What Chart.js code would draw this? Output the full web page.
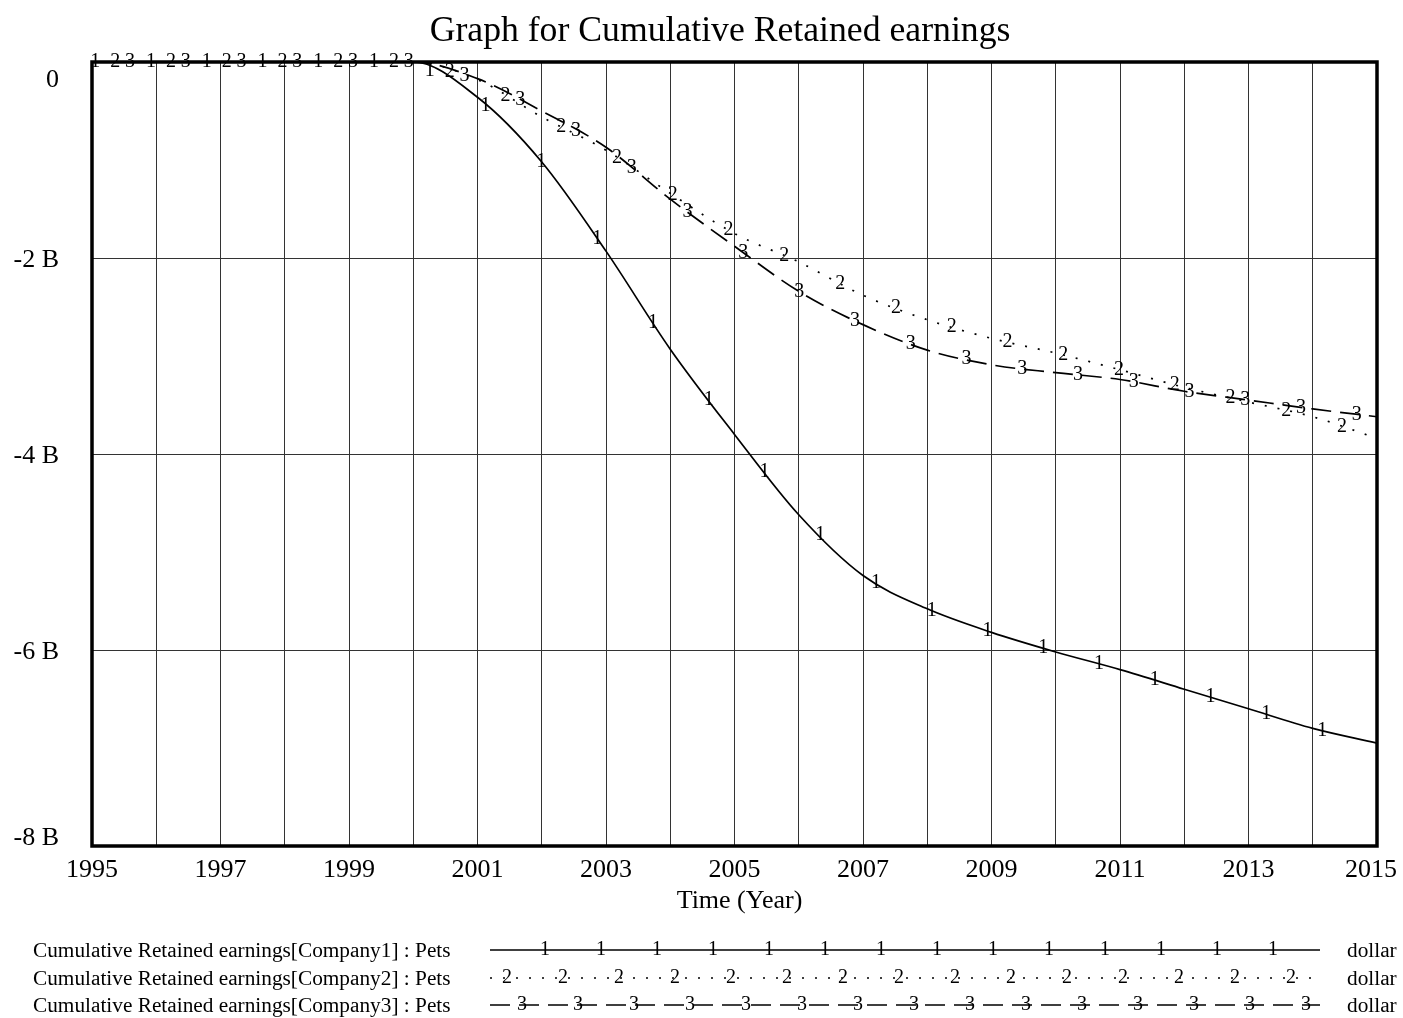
<!DOCTYPE html>
<html>
<head>
<meta charset="utf-8">
<title>Graph for Cumulative Retained earnings</title>
<script src="https://cdn.jsdelivr.net/npm/chart.js@4.4.0/dist/chart.umd.min.js"></script>
<style>
  html, body { margin: 0; padding: 0; background: #ffffff; }
  canvas { display: block; }
</style>
</head>
<body>
<canvas id="retainedChart" width="1403" height="1018"></canvas>
<script>
// values in billions of dollars
var years = [1995, 1996, 1997, 1998, 1999, 2000, 2001, 2002, 2003, 2004, 2005,
             2006, 2007, 2008, 2009, 2010, 2011, 2012, 2013, 2014, 2015];
var company1 = [0, 0, 0, 0, 0, 0, -0.36, -1.02, -1.93, -2.93, -3.8,
                -4.62, -5.24, -5.58, -5.82, -6.02, -6.2, -6.4, -6.6, -6.8, -6.95];
var company2 = [0, 0, 0, 0, 0, 0, -0.18, -0.56, -0.9, -1.34, -1.75,
                -2.04, -2.38, -2.63, -2.82, -2.97, -3.14, -3.32, -3.47, -3.62, -3.84];
var company3 = [0, 0, 0, 0, 0, 0, -0.17, -0.5, -0.87, -1.4, -1.88,
                -2.34, -2.68, -2.94, -3.09, -3.17, -3.24, -3.36, -3.45, -3.54, -3.62];

var xTickYears = [1995, 1997, 1999, 2001, 2003, 2005, 2007, 2009, 2011, 2013, 2015];
var yTickValues = [0, -2, -4, -6, -8];
var yTickLabels = ["0", "-2 B", "-4 B", "-6 B", "-8 B"];

var seriesNames = [
  "Cumulative Retained earnings[Company1] : Pets",
  "Cumulative Retained earnings[Company2] : Pets",
  "Cumulative Retained earnings[Company3] : Pets"
];
var seriesUnit = "dollar";

var FONT = '"Liberation Serif", "Times New Roman", serif';
var dashes = [[], [2, 11], [20, 9]];
// where the number tags sit along each line (years after 1995), and their spacing
var tagStart = [0.05, 0.36, 0.59];
var tagStep = 0.868;

function toPoints(vals) {
  return years.map(function (y, i) { return { x: y, y: vals[i] }; });
}

function valueAt(pts, x) {
  for (var i = 0; i < pts.length - 1; i++) {
    if (x >= pts[i].x && x <= pts[i + 1].x) {
      var t = (x - pts[i].x) / (pts[i + 1].x - pts[i].x);
      return pts[i].y + t * (pts[i + 1].y - pts[i].y);
    }
  }
  return pts[pts.length - 1].y;
}

var vensimDecor = {
  id: "vensimDecor",
  afterDatasetsDraw: function (chart) {
    var ctx = chart.ctx;
    var xs = chart.scales.x, ys = chart.scales.y;
    var area = chart.chartArea;

    ctx.save();
    ctx.fillStyle = "#000";

    // number tags on the lines
    ctx.font = "20px " + FONT;
    ctx.textAlign = "center";
    ctx.textBaseline = "middle";
    chart.data.datasets.forEach(function (ds, i) {
      for (var t = xs.min + tagStart[i]; t <= xs.max; t += tagStep) {
        var v = valueAt(ds.data, t);
        ctx.fillText(String(i + 1), xs.getPixelForValue(t), ys.getPixelForValue(v));
      }
    });

    // plot frame
    ctx.strokeStyle = "#000";
    ctx.lineWidth = 3.5;
    ctx.strokeRect(area.left, area.top, area.right - area.left, area.bottom - area.top);

    // title
    ctx.textAlign = "center";
    ctx.textBaseline = "alphabetic";
    ctx.font = "35.7px " + FONT;
    ctx.fillText("Graph for Cumulative Retained earnings", 720, 41);

    // axis labels
    ctx.font = "26px " + FONT;
    xTickYears.forEach(function (yr) {
      var px = xs.getPixelForValue(yr);
      var w = ctx.measureText(String(yr)).width;
      px = Math.min(px, 1397 - w / 2);
      ctx.fillText(String(yr), px, 877);
    });
    ctx.fillText("Time (Year)", (area.left + area.right) / 2 + 5, 908);

    ctx.textAlign = "right";
    yTickValues.forEach(function (v, i) {
      var py = ys.getPixelForValue(v);
      py = Math.max(area.top + 16, Math.min(area.bottom - 10, py));
      ctx.fillText(yTickLabels[i], 59, py + 9);
    });

    // legend rows
    var rowY = [950, 978, 1005];
    var tagX0 = [545, 507, 522];
    seriesNames.forEach(function (name, i) {
      ctx.font = "21.3px " + FONT;
      ctx.textAlign = "left";
      ctx.textBaseline = "alphabetic";
      ctx.fillText(name, 33, rowY[i] + 7);
      ctx.fillText(seriesUnit, 1347, rowY[i] + 7);

      ctx.beginPath();
      ctx.lineWidth = 1.6;
      ctx.setLineDash(dashes[i]);
      ctx.moveTo(490, rowY[i]);
      ctx.lineTo(1320, rowY[i]);
      ctx.stroke();
      ctx.setLineDash([]);

      ctx.textAlign = "center";
      ctx.textBaseline = "middle";
      ctx.font = "20px " + FONT;
      for (var x = tagX0[i]; x < 1315; x += 56) {
        ctx.fillText(String(i + 1), x, rowY[i]);
      }
    });

    ctx.restore();
  }
};

var ctx = document.getElementById("retainedChart").getContext("2d");

var retainedChart = new Chart(ctx, {
  type: "line",
  data: {
    datasets: [
      {
        label: seriesNames[0],
        data: toPoints(company1),
        borderColor: "#000",
        borderWidth: 1.7,
        borderDash: dashes[0]
      },
      {
        label: seriesNames[1],
        data: toPoints(company2),
        borderColor: "#000",
        borderWidth: 1.7,
        borderDash: dashes[1]
      },
      {
        label: seriesNames[2],
        data: toPoints(company3),
        borderColor: "#000",
        borderWidth: 1.7,
        borderDash: dashes[2]
      }
    ]
  },
  options: {
    responsive: false,
    animation: false,
    devicePixelRatio: 1,
    layout: {
      padding: { top: 62, right: 26, bottom: 0, left: 0 }
    },
    elements: {
      point: { radius: 0 },
      line: { cubicInterpolationMode: "monotone", fill: false }
    },
    plugins: {
      legend: { display: false },
      title: { display: false },
      tooltip: { enabled: false }
    },
    scales: {
      x: {
        type: "linear",
        min: 1995,
        max: 2015,
        ticks: { display: false, stepSize: 1 },
        grid: { color: "#333", lineWidth: 1, drawTicks: false },
        border: { display: false },
        afterFit: function (scale) { scale.height = 172; }
      },
      y: {
        min: -8,
        max: 0,
        ticks: { display: false, stepSize: 2 },
        grid: { color: "#333", lineWidth: 1, drawTicks: false },
        border: { display: false },
        afterFit: function (scale) { scale.width = 92; }
      }
    }
  },
  plugins: [vensimDecor]
});
</script>
</body>
</html>
